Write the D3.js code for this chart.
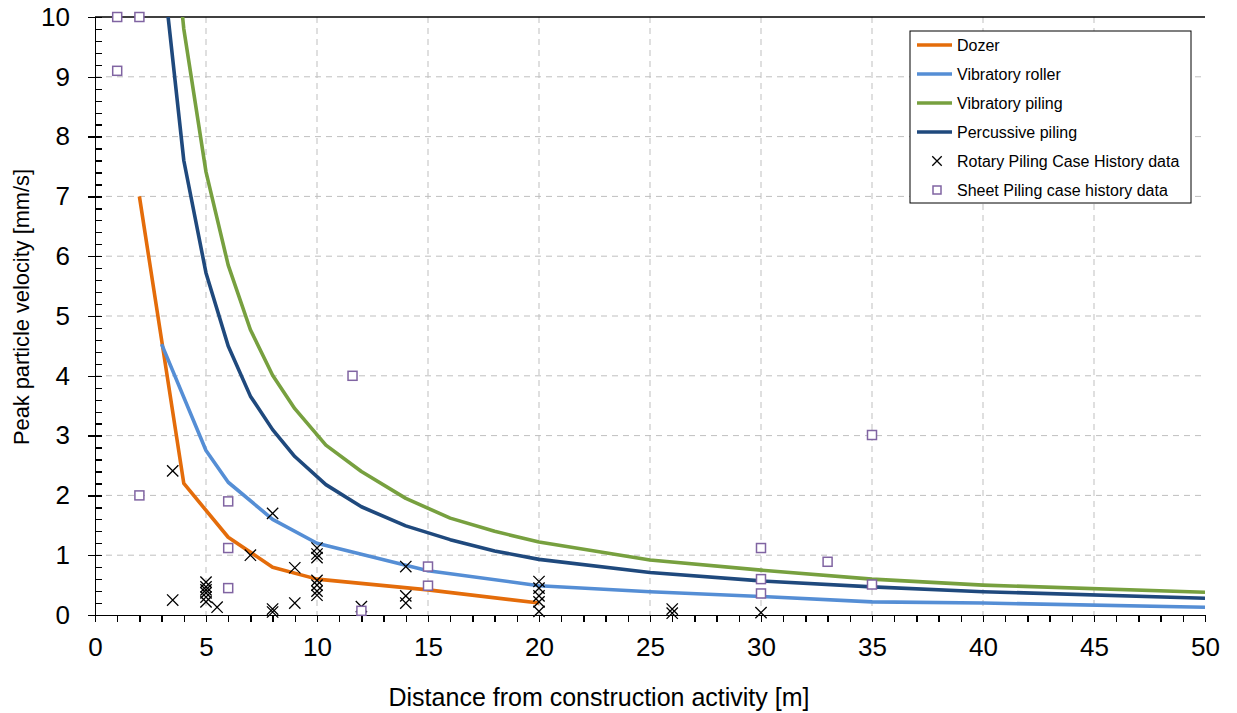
<!DOCTYPE html>
<html>
<head>
<meta charset="utf-8">
<script src="https://cdn.jsdelivr.net/npm/d3@7"></script>
<style>
	body { margin: 0; background: #fff; }
	#chart text { font-family: "Liberation Sans", Arial, sans-serif; fill: #000; }
	.grid line { stroke: #bfbfbf; stroke-width: 1; stroke-dasharray: 6,5; }
	.axis path, .axis line { stroke: #000; stroke-width: 1.3; shape-rendering: crispEdges; }
	.series { fill: none; stroke-width: 3.6; stroke-linejoin: round; }
</style>
</head>
<body>
<div id="chart"></div>
<script>
// curve data
var dozerX = [2, 4, 6, 8, 10, 15, 20];
var dozerY = [7.0, 2.2, 1.3, 0.8, 0.6, 0.42, 0.2];

var rollerX = [3, 5, 6, 8, 10, 15, 20, 25, 30, 35, 40, 50];
var rollerY = [4.53, 2.75, 2.22, 1.6, 1.2, 0.74, 0.49, 0.39, 0.31, 0.22, 0.2, 0.13];

var vibPileX = [3, 4, 5, 6, 7, 8, 9, 10.4, 12, 14, 16, 18, 20, 25, 30, 35, 40, 50];
var vibPileY = [13.5, 9.8, 7.41, 5.85, 4.77, 4.01, 3.45, 2.84, 2.4, 1.95, 1.62, 1.4, 1.22, 0.92, 0.75, 0.6, 0.5, 0.38];

var percPileX = [3, 4, 5, 6, 7, 8, 9, 10.4, 12, 14, 16, 18, 20, 25, 30, 35, 40, 50];
var percPileY = [11.0, 7.6, 5.72, 4.5, 3.66, 3.1, 2.65, 2.18, 1.81, 1.49, 1.26, 1.07, 0.93, 0.71, 0.57, 0.47, 0.39, 0.28];

// case history points
var rotaryX = [3.5, 3.5, 5, 5, 5, 5, 5, 5, 5.5, 7, 8, 8, 8, 9, 9, 10, 10, 10, 10, 10, 10, 10, 12, 14, 14, 14, 20, 20, 20, 20, 20, 26, 26, 30];
var rotaryY = [2.41, 0.25, 0.55, 0.47, 0.42, 0.37, 0.3, 0.22, 0.13, 1.0, 1.7, 0.1, 0.05, 0.79, 0.2, 1.12, 1.02, 0.96, 0.58, 0.5, 0.4, 0.33, 0.14, 0.81, 0.32, 0.2, 0.56, 0.45, 0.32, 0.22, 0.06, 0.1, 0.03, 0.04];

var sheetX = [1, 2, 1, 2, 6, 6, 6, 11.6, 12, 15, 15, 30, 30, 30, 33, 35, 35];
var sheetY = [10, 10, 9.1, 2.0, 1.9, 1.12, 0.45, 4.0, 0.07, 0.81, 0.49, 1.12, 0.6, 0.36, 0.89, 3.01, 0.51];

var seriesNames = ["Dozer", "Vibratory roller", "Vibratory piling", "Percussive piling"];
var seriesColors = ["#e46c0a", "#558ed5", "#77a03f", "#1f497d"];
var markerNames = ["Rotary Piling Case History data", "Sheet Piling case history data"];

var xTicks = [0, 5, 10, 15, 20, 25, 30, 35, 40, 45, 50];
var yTicks = [0, 1, 2, 3, 4, 5, 6, 7, 8, 9, 10];

var w = 1237;
var h = 713;
var padL = 95, padR = 1205, padT = 17, padB = 615;
var xScale, yScale;

function zip(xs, ys) {
	return xs.map(function(x, i) { return [x, ys[i]]; });
}

function drawChart() {

	xScale = d3.scaleLinear().domain([0, 50]).range([padL, padR]);
	yScale = d3.scaleLinear().domain([0, 10]).range([padB, padT]);

	var svg = d3.select("#chart")
		.append("svg")
		.attr("width", w)
		.attr("height", h);

	svg.append("clipPath")
		.attr("id", "plotClip")
		.append("rect")
		.attr("x", padL)
		.attr("y", padT)
		.attr("width", padR - padL)
		.attr("height", padB - padT);

	// dashed gridlines
	var grid = svg.append("g").attr("class", "grid");
	grid.selectAll(".vg")
		.data(xTicks.filter(function(d) { return d > 0 && d < 50; }))
		.enter().append("line")
		.attr("x1", function(d) { return xScale(d); })
		.attr("x2", function(d) { return xScale(d); })
		.attr("y1", padT)
		.attr("y2", padB);
	grid.selectAll(".hg")
		.data(yTicks.filter(function(d) { return d > 0 && d < 10; }))
		.enter().append("line")
		.attr("x1", padL)
		.attr("x2", padR)
		.attr("y1", function(d) { return yScale(d); })
		.attr("y2", function(d) { return yScale(d); });

	// top border of plot
	svg.append("line")
		.attr("x1", padL).attr("x2", padR)
		.attr("y1", padT).attr("y2", padT)
		.attr("stroke", "#000").attr("stroke-width", 1.5);

	// axes
	var xAxis = d3.axisBottom(xScale).tickValues(xTicks).tickSize(7).tickPadding(16).tickFormat(d3.format("d"));
	var xMinor = d3.axisBottom(xScale).tickValues(d3.range(0, 51, 1)).tickSize(7).tickFormat("");
	var yAxis = d3.axisLeft(yScale).tickValues(yTicks).tickSizeInner(7).tickSizeOuter(0).tickPadding(18).tickFormat(d3.format("d"));
	var yMinor = d3.axisRight(yScale).tickValues(d3.range(0, 10.01, 0.2)).tickSize(7).tickFormat("");

	svg.append("g").attr("class", "axis")
		.attr("transform", "translate(0," + padB + ")")
		.call(xMinor);
	svg.append("g").attr("class", "axis")
		.attr("transform", "translate(0," + padB + ")")
		.call(xAxis)
		.selectAll("text").style("font-size", "26px");

	svg.append("g").attr("class", "axis")
		.attr("transform", "translate(" + padL + ",0)")
		.call(yMinor);
	svg.append("g").attr("class", "axis")
		.attr("transform", "translate(" + padL + ",0)")
		.call(yAxis)
		.selectAll("text").style("font-size", "26px");

	// axis titles
	svg.append("text")
		.attr("x", 599)
		.attr("y", 706)
		.attr("text-anchor", "middle")
		.style("font-size", "25px")
		.text("Distance from construction activity [m]");
	svg.append("text")
		.attr("transform", "translate(29,307) rotate(-90)")
		.attr("text-anchor", "middle")
		.attr("textLength", 276)
		.attr("lengthAdjust", "spacingAndGlyphs")
		.style("font-size", "22px")
		.text("Peak particle velocity [mm/s]");

	// fitted curves
	var line = d3.line()
		.x(function(d) { return xScale(d[0]); })
		.y(function(d) { return yScale(d[1]); });

	var curves = [zip(dozerX, dozerY), zip(rollerX, rollerY), zip(vibPileX, vibPileY), zip(percPileX, percPileY)];
	svg.append("g")
		.attr("clip-path", "url(#plotClip)")
		.selectAll("path")
		.data(curves)
		.enter().append("path")
		.attr("class", "series")
		.attr("stroke", function(d, i) { return seriesColors[i]; })
		.attr("d", line);

	// rotary piling crosses
	var cross = d3.symbol().type(d3.symbolX).size(85);
	svg.append("g")
		.selectAll("path")
		.data(zip(rotaryX, rotaryY))
		.enter().append("path")
		.attr("d", cross)
		.attr("transform", function(d) { return "translate(" + xScale(d[0]) + "," + yScale(d[1]) + ")"; })
		.attr("fill", "none")
		.attr("stroke", "#000")
		.attr("stroke-width", 1.3);

	// sheet piling squares
	svg.append("g")
		.selectAll("rect")
		.data(zip(sheetX, sheetY))
		.enter().append("rect")
		.attr("x", function(d) { return xScale(d[0]) - 4.5; })
		.attr("y", function(d) { return yScale(d[1]) - 4.5; })
		.attr("width", 9)
		.attr("height", 9)
		.attr("fill", "#fff")
		.attr("stroke", "#8064a2")
		.attr("stroke-width", 1.5);

	// legend
	var lg = svg.append("g").attr("transform", "translate(910,31)");
	lg.append("rect")
		.attr("width", 281).attr("height", 172)
		.attr("fill", "#fff").attr("stroke", "#000").attr("stroke-width", 1);

	seriesNames.forEach(function(name, i) {
		var yy = 14 + i * 29;
		lg.append("line")
			.attr("x1", 7).attr("x2", 42)
			.attr("y1", yy).attr("y2", yy)
			.attr("stroke", seriesColors[i]).attr("stroke-width", 3.6);
		lg.append("text")
			.attr("x", 47).attr("y", yy + 6)
			.style("font-size", "16px")
			.text(name);
	});

	var yy = 14 + 4 * 29;
	lg.append("path")
		.attr("d", d3.symbol().type(d3.symbolX).size(60))
		.attr("transform", "translate(27," + yy + ")")
		.attr("fill", "none").attr("stroke", "#000").attr("stroke-width", 1.3);
	lg.append("text").attr("x", 47).attr("y", yy + 6).style("font-size", "16px").text(markerNames[0]);

	yy = 14 + 5 * 29;
	lg.append("rect")
		.attr("x", 23).attr("y", yy - 4).attr("width", 8).attr("height", 8)
		.attr("fill", "#fff").attr("stroke", "#8064a2").attr("stroke-width", 1.5);
	lg.append("text").attr("x", 47).attr("y", yy + 6).style("font-size", "16px").text(markerNames[1]);
}

function init() {
	drawChart();
}

window.onload = init;
</script>
</body>
</html>
